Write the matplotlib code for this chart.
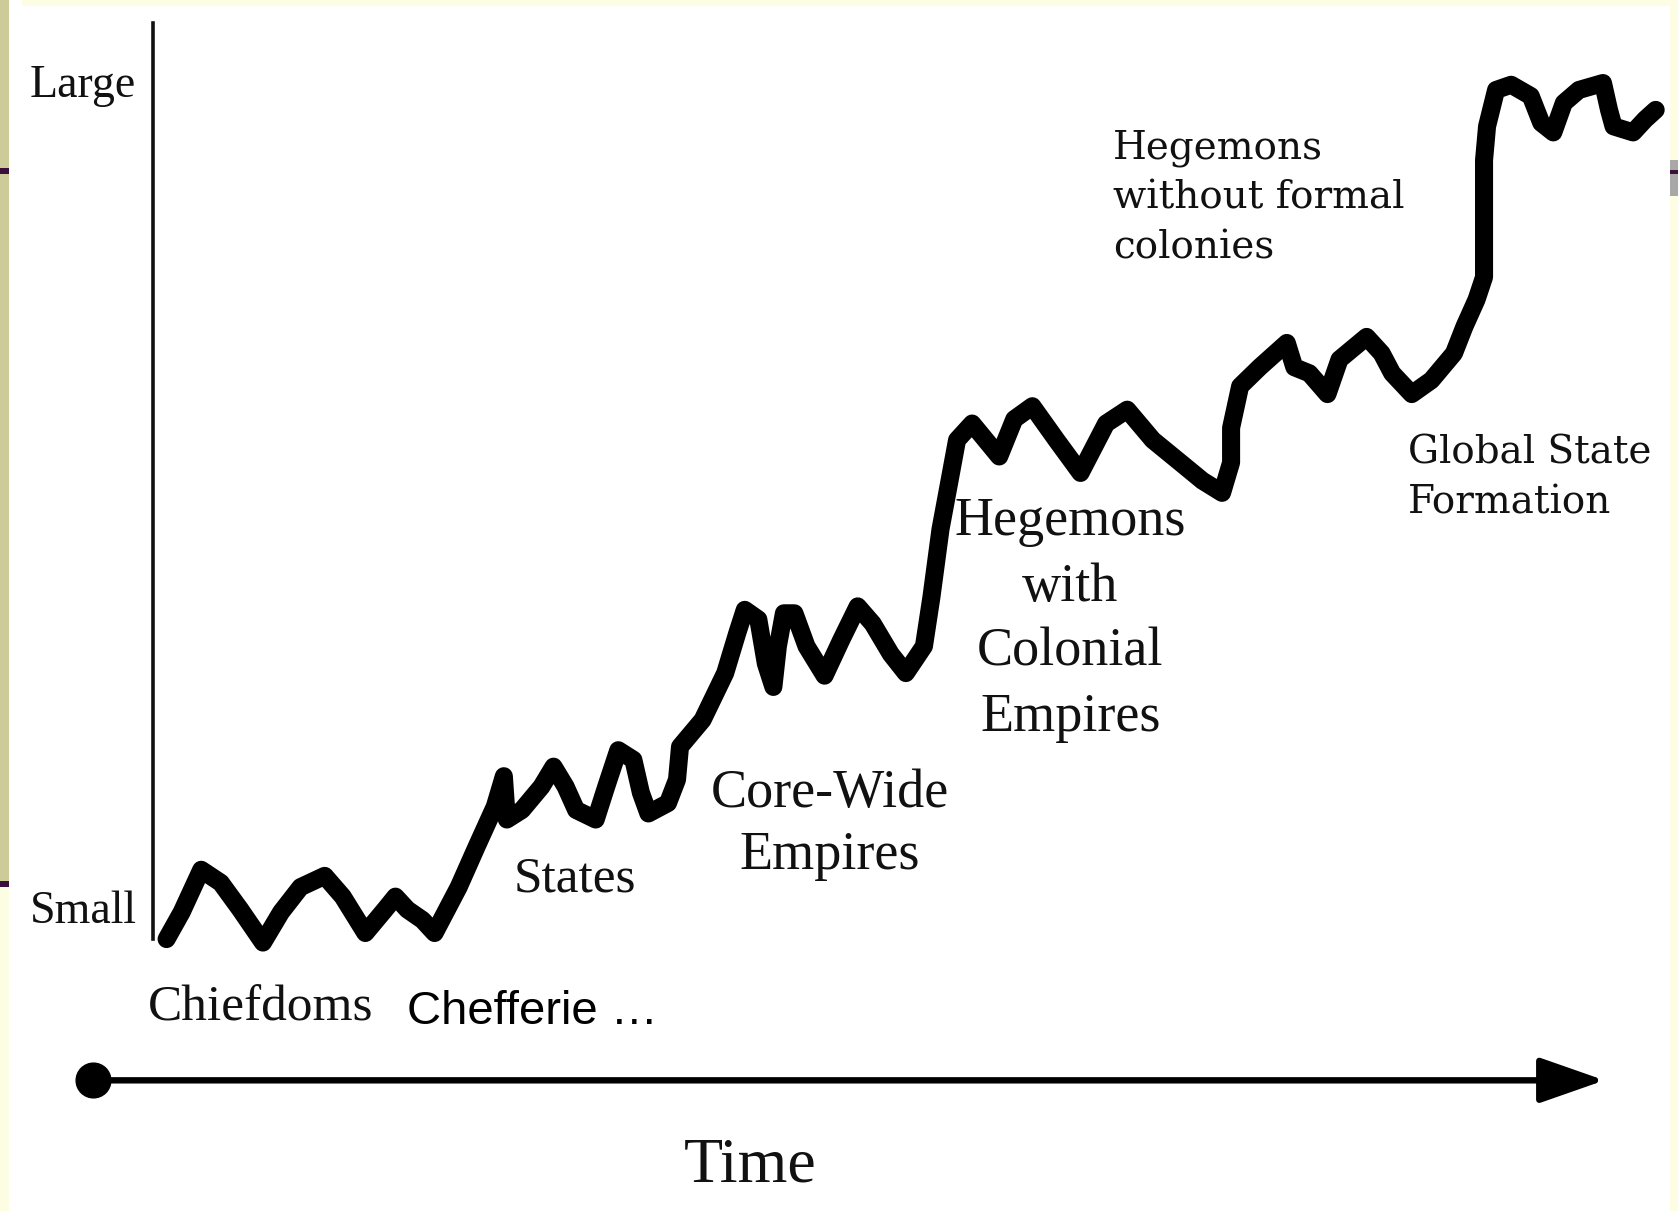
import matplotlib.pyplot as plt
from matplotlib.patches import Rectangle

# schematic curve: time (0-100) vs. size of the largest polity (0 = small, 100 = large)
time = [0.9, 1.9, 3.2, 4.5, 5.8, 7.3, 8.5, 9.8, 11.4, 12.6, 14.1, 15.4, 16.1,
        16.9, 17.9, 18.7, 20.3, 21.5, 22.7, 23.3, 23.5, 24.5, 25.8, 26.6, 27.4,
        28.1, 29.4, 30.1, 30.9, 31.9, 32.4, 32.9, 34.2, 34.8, 35.0, 36.5, 38.0,
        38.8, 39.3, 40.2, 40.7, 41.2, 41.5, 41.9, 42.6, 43.4, 44.6, 45.7, 46.8,
        47.8, 49.0, 50.0, 51.2, 51.7, 52.3, 52.9, 53.4, 54.4, 55.3, 56.2, 57.2,
        58.4, 60.0, 61.6, 63.3, 64.7, 66.4, 68.3, 69.7, 71.0, 71.6, 71.6, 72.2,
        73.5, 75.3, 75.8, 76.8, 78.0, 78.8, 80.6, 81.6, 82.3, 83.6, 84.9, 86.4,
        87.1, 87.9, 88.4, 88.4, 88.6, 89.2, 90.2, 91.5, 92.2, 93.0, 93.7, 94.7,
        96.3, 96.7, 97.0, 98.3, 99.1, 99.8]
size = [1.5, 4.6, 9.5, 8.0, 4.9, 1.1, 4.6, 7.5, 8.8, 6.4, 2.2, 4.9, 6.4,
        4.9, 3.7, 2.2, 7.5, 12.2, 16.8, 20.3, 15.3, 16.4, 19.1, 21.4, 19.1,
        16.4, 15.3, 19.1, 23.3, 22.2, 18.4, 16.0, 17.2, 19.9, 23.7, 26.8, 32.2,
        36.8, 39.5, 38.4, 33.3, 30.6, 35.3, 39.1, 39.1, 35.3, 31.9, 36.0, 39.9,
        37.9, 34.4, 32.2, 35.3, 41.0, 48.8, 54.4, 59.1, 61.0, 59.1, 57.2, 61.5,
        63.0, 59.1, 55.3, 61.0, 62.6, 59.1, 56.4, 54.4, 53.0, 56.5, 60.5, 65.3,
        67.5, 70.3, 67.5, 66.8, 64.4, 68.4, 71.0, 69.1, 66.8, 64.4, 66.0, 69.1,
        72.2, 75.3, 77.9, 91.4, 95.3, 99.5, 100.1, 98.8, 95.7, 94.6, 98.0, 99.5,
        100.3, 97.2, 95.3, 94.6, 96.1, 97.2]

y_labels = ["Large", "Small"]
stages = ["Chiefdoms", "States", "Core-Wide\nEmpires",
          "Hegemons\nwith\nColonial\nEmpires",
          "Hegemons\nwithout formal\ncolonies", "Global State\nFormation"]
note = "Chefferie \u2026"
x_label = "Time"

serif = ["Liberation Serif", "DejaVu Serif"]
ink = "#111111"

fig = plt.figure(figsize=(16.78, 12.11), dpi=100)
fig.patch.set_facecolor("white")

# slide background strips around the scanned picture
khaki = "#cdcb98"
pale = "#fdfde3"
purple = "#3b0f3b"
for x, y, w, h, c in [(0, 0.27, 0.0051, 0.73, khaki),
                      (0, 0, 0.0051, 0.27, pale),
                      (0, 0.2675, 0.0051, 0.005, purple),
                      (0, 0.856, 0.0051, 0.005, purple),
                      (0.013, 0.9947, 0.987, 0.0053, pale),
                      (0.9955, 0, 0.0045, 1, pale),
                      (0.9955, 0.838, 0.0045, 0.03, "#a8a8a8"),
                      (0.9955, 0.856, 0.0045, 0.004, purple)]:
    fig.patches.append(Rectangle((x, y), w, h, transform=fig.transFigure,
                                 facecolor=c, edgecolor="none", zorder=0))

ax = fig.add_axes([0.0912, 0.2138, 0.8973, 0.7155])
ax.set_xlim(0, 100)
ax.set_ylim(0, 100)
ax.axis("off")

# vertical axis
ax.plot([0, 0], [1.5, 107.2], color=ink, lw=2.6, clip_on=False)

# wiggly growth line
ax.plot(time, size, color="black", lw=13, solid_joinstyle="round",
        solid_capstyle="round", clip_on=False)

# time arrow with start dot
ax.annotate("", xy=(96.4, -14.8), xytext=(-4.0, -14.8),
            arrowprops=dict(arrowstyle="-|>,head_length=0.8,head_width=0.28",
                            mutation_scale=50, lw=4.6, color="black",
                            shrinkA=0, shrinkB=0),
            annotation_clip=False)
ax.plot([-4.0], [-14.8], "o", color="black", ms=25, clip_on=False)

fig.text(0.0179, 0.9293, y_labels[0], family=serif, fontsize=33,
         color=ink, ha="left", va="center")
fig.text(0.0179, 0.2473, y_labels[1], family=serif, fontsize=33,
         color=ink, ha="left", va="center")

fig.text(0.0880, 0.1678, stages[0], family=serif, fontsize=37,
         color=ink, ha="left", va="center")
fig.text(0.2423, 0.1643, note, family=["Liberation Sans", "DejaVu Sans"],
         fontsize=34, color="black", ha="left", va="center")
fig.text(0.3061, 0.2739, stages[1], family=serif, fontsize=37,
         color=ink, ha="left", va="center")
fig.text(0.4943, 0.3189, stages[2], family=serif, fontsize=39,
         color=ink, ha="center", va="center", multialignment="center",
         linespacing=1.3)
fig.text(0.6378, 0.4881, stages[3], family=serif, fontsize=39,
         color=ink, ha="center", va="center", multialignment="center",
         linespacing=1.38)
fig.text(0.6633, 0.8366, stages[4], family="DejaVu Serif", fontsize=28,
         color=ink, ha="left", va="center", linespacing=1.45)
fig.text(0.8393, 0.6051, stages[5], family="DejaVu Serif", fontsize=28,
         color=ink, ha="left", va="center", linespacing=1.45)

fig.text(0.4471, 0.0371, x_label, family=serif, fontsize=46,
         color=ink, ha="center", va="center")

plt.savefig("out.png", dpi=100)
